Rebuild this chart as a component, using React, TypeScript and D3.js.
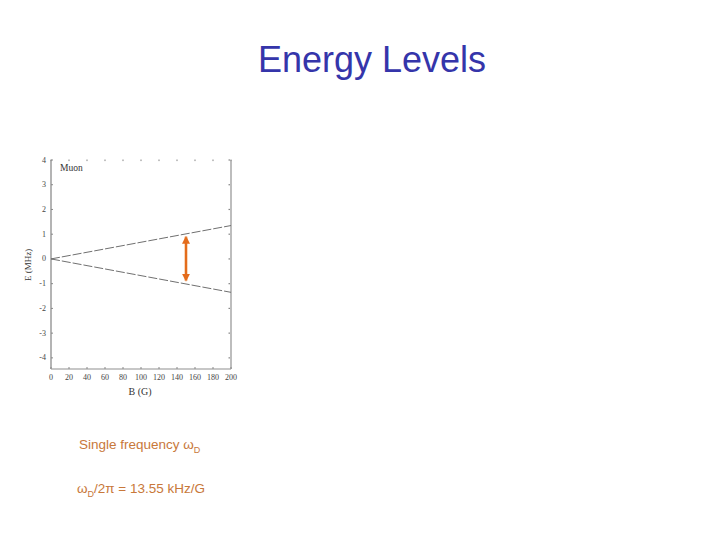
import * as React from 'react';
import * as d3 from 'd3';

// field B (G) and the two muon levels E (MHz)
const fieldB = [0, 200];
const upperLevel = [0, 1.35];
const lowerLevel = [0, -1.35];
const xTicks = [0, 20, 40, 60, 80, 100, 120, 140, 160, 180, 200];
const yTicks = [4, 3, 2, 1, 0, -1, -2, -3, -4];
const arrowB = 150;
const arrowTop = 0.9;
const arrowBottom = -0.88;

export default function App() {
  const svgRef = React.useRef<SVGSVGElement>(null);

  React.useEffect(() => {
    if (!svgRef.current) return;
    const svg = d3.select(svgRef.current);
    svg.selectAll('*').remove();

    const left = 51;
    const right = 231;
    const top = 160;
    const bottom = 369;

    const x = d3.scaleLinear().domain([0, 200]).range([left, right]);
    const y = d3.scaleLinear().domain([-4.45, 4]).range([bottom, top]);

    // title
    svg
      .append('text')
      .attr('x', 372)
      .attr('y', 72)
      .attr('text-anchor', 'middle')
      .style('font-family', 'Liberation Sans, Arial, sans-serif')
      .style('font-size', '36px')
      .style('fill', '#3535aa')
      .text('Energy Levels');

    const plot = svg.append('g');

    // frame
    plot
      .append('line')
      .attr('x1', left)
      .attr('x2', left)
      .attr('y1', top)
      .attr('y2', bottom)
      .attr('stroke', '#b4b4b4')
      .attr('stroke-width', 2);
    plot
      .append('line')
      .attr('x1', right)
      .attr('x2', right)
      .attr('y1', top)
      .attr('y2', bottom)
      .attr('stroke', '#bdbdbd')
      .attr('stroke-width', 2);
    plot
      .append('line')
      .attr('x1', left)
      .attr('x2', right)
      .attr('y1', bottom)
      .attr('y2', bottom)
      .attr('stroke', '#b4b4b4')
      .attr('stroke-width', 1.5);

    // top and right minor dots
    plot
      .selectAll('.tdot')
      .data(xTicks)
      .enter()
      .append('rect')
      .attr('x', (d) => x(d) - 0.6)
      .attr('y', top - 0.5)
      .attr('width', 1.2)
      .attr('height', 1.6)
      .attr('fill', '#999');
    plot
      .selectAll('.rdot')
      .data(yTicks)
      .enter()
      .append('rect')
      .attr('x', right - 2.5)
      .attr('y', (d) => y(d) - 0.6)
      .attr('width', 1.5)
      .attr('height', 1.2)
      .attr('fill', '#888');

    // ticks
    plot
      .selectAll('.xt')
      .data(xTicks)
      .enter()
      .append('line')
      .attr('x1', (d) => x(d))
      .attr('x2', (d) => x(d))
      .attr('y1', bottom - 2)
      .attr('y2', bottom)
      .attr('stroke', '#888');
    plot
      .selectAll('.yt')
      .data(yTicks)
      .enter()
      .append('line')
      .attr('x1', left)
      .attr('x2', left + 2)
      .attr('y1', (d) => y(d))
      .attr('y2', (d) => y(d))
      .attr('stroke', '#888');

    const tickFont = 'Liberation Serif, Times New Roman, serif';
    plot
      .selectAll('.xl')
      .data(xTicks)
      .enter()
      .append('text')
      .attr('x', (d) => x(d))
      .attr('y', bottom + 11)
      .attr('text-anchor', 'middle')
      .style('font-family', tickFont)
      .style('font-size', '8px')
      .style('fill', '#444')
      .text((d) => String(d));
    plot
      .selectAll('.yl')
      .data(yTicks)
      .enter()
      .append('text')
      .attr('x', left - 5)
      .attr('y', (d) => y(d) + 2.5)
      .attr('text-anchor', 'end')
      .style('font-family', tickFont)
      .style('font-size', '8px')
      .style('fill', '#444')
      .text((d) => String(d));

    plot
      .append('text')
      .attr('x', 140)
      .attr('y', 395)
      .attr('text-anchor', 'middle')
      .style('font-family', tickFont)
      .style('font-size', '10px')
      .style('fill', '#333')
      .text('B (G)');
    plot
      .append('text')
      .attr('transform', `translate(31, ${y(0) + 6}) rotate(-90)`)
      .attr('text-anchor', 'middle')
      .style('font-family', tickFont)
      .style('font-size', '9px')
      .style('fill', '#333')
      .text('E (MHz)');
    plot
      .append('text')
      .attr('x', 60)
      .attr('y', 171)
      .style('font-family', tickFont)
      .style('font-size', '9.5px')
      .style('fill', '#333')
      .text('Muon');

    // energy levels
    const line = d3
      .line<number>()
      .x((_, i) => x(fieldB[i]))
      .y((d) => y(d));
    [upperLevel, lowerLevel].forEach((lv) => {
      plot
        .append('path')
        .attr('d', line(lv))
        .attr('fill', 'none')
        .attr('stroke', '#707070')
        .attr('stroke-width', 1)
        .attr('stroke-dasharray', '9,2');
    });

    // transition arrow
    const defs = svg.append('defs');
    defs
      .append('marker')
      .attr('id', 'ah')
      .attr('viewBox', '0 0 10 10')
      .attr('refX', 5)
      .attr('refY', 5)
      .attr('markerWidth', 4)
      .attr('markerHeight', 4)
      .attr('orient', 'auto-start-reverse')
      .append('path')
      .attr('d', 'M0,0 L10,5 L0,10 Z')
      .attr('fill', '#e46c1c');
    plot
      .append('line')
      .attr('x1', x(arrowB))
      .attr('x2', x(arrowB))
      .attr('y1', y(arrowTop))
      .attr('y2', y(arrowBottom))
      .attr('stroke', '#f3b27a')
      .attr('stroke-width', 4)
      .attr('opacity', 0.5);
    plot
      .append('line')
      .attr('x1', x(arrowB))
      .attr('x2', x(arrowB))
      .attr('y1', y(arrowTop) + 3)
      .attr('y2', y(arrowBottom) - 3)
      .attr('stroke', '#e46c1c')
      .attr('stroke-width', 2)
      .attr('marker-start', 'url(#ah)')
      .attr('marker-end', 'url(#ah)');

    // notes
    const noteFont = 'Liberation Sans, Arial, sans-serif';
    const n1 = svg
      .append('text')
      .attr('x', 79)
      .attr('y', 449)
      .style('font-family', noteFont)
      .style('font-size', '13.5px')
      .style('fill', '#c8783a');
    n1.append('tspan').text('Single frequency ω');
    n1.append('tspan').attr('dy', 4).style('font-size', '9px').text('D');

    const n2 = svg
      .append('text')
      .attr('x', 77)
      .attr('y', 493)
      .style('font-family', noteFont)
      .style('font-size', '13.5px')
      .style('fill', '#c8783a');
    n2.append('tspan').text('ω');
    n2.append('tspan').attr('dy', 4).style('font-size', '9px').text('D');
    n2.append('tspan').attr('dy', -4).text('/2π = 13.55 kHz/G');
  }, []);

  return (
    <svg
      ref={svgRef}
      width={720}
      height={540}
      style={{ position: 'absolute', left: 0, top: 0, background: '#fff' }}
    />
  );
}
